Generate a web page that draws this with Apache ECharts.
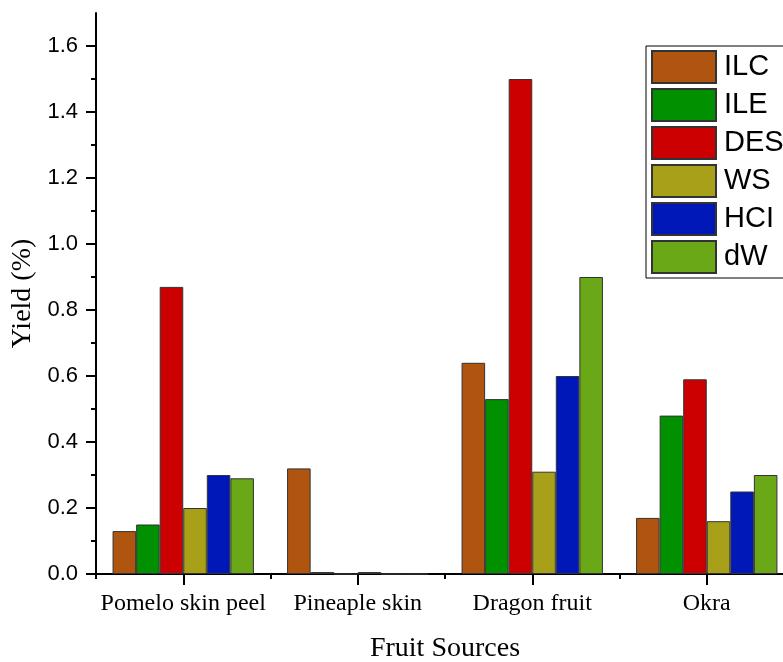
<!DOCTYPE html>
<html><head><meta charset="utf-8">
<script src="https://cdn.jsdelivr.net/npm/echarts@6/dist/echarts.min.js"></script>
<style>html,body{margin:0;padding:0;background:#fff;overflow:hidden}#c{width:783px;height:662px}</style>
</head><body><div id="c"></div>
<script>
const categories = ['Pomelo skin peel', 'Pineaple skin', 'Dragon fruit', 'Okra'];
const seriesNames = ['ILC', 'ILE', 'DES', 'WS', 'HCI', 'dW'];
const ILC = [0.13, 0.32, 0.64, 0.17];
const ILE = [0.15, 0.006, 0.53, 0.48];
const DES = [0.87, 0, 1.50, 0.59];
const WS  = [0.20, 0.006, 0.31, 0.16];
const HCI = [0.30, 0, 0.60, 0.25];
const dW  = [0.29, 0, 0.90, 0.30];
const majorTicks = [0, 0.2, 0.4, 0.6, 0.8, 1.0, 1.2, 1.4, 1.6];
const minorTicks = [0.1, 0.3, 0.5, 0.7, 0.9, 1.1, 1.3, 1.5];
const colors = ['#B05510', '#009000', '#CC0000', '#A8A018', '#0018B8', '#6AA818'];
const values = [ILC, ILE, DES, WS, HCI, dW];

const chart = echarts.init(document.getElementById('c'), null, {renderer: 'canvas'});
const serif = '"Liberation Serif", "Times New Roman", serif';
const sans = '"Liberation Sans", Arial, sans-serif';
const blk = {color: '#000', width: 2};
const tickOnlyX = (alignWithLabel, length) => ({
  type: 'category', data: categories, position: 'bottom', offset: 0,
  axisLine: {show: false},
  axisTick: {show: true, interval: 0, alignWithLabel: alignWithLabel, length: length, lineStyle: blk},
  axisLabel: {show: false}, splitLine: {show: false}
});
const tickOnlyY = (vals, length) => ({
  type: 'value', min: 0, max: 1.7, position: 'left', offset: 0,
  splitLine: {show: false},
  axisLine: {show: false},
  axisTick: {show: true, length: length, customValues: vals, lineStyle: blk},
  axisLabel: {show: false}
});
chart.setOption({
  animation: false,
  backgroundColor: '#fff',
  grid: {left: 96, top: 13, width: 698, height: 561, containLabel: false, outerBoundsMode: 'none'},
  legend: {
    orient: 'vertical', left: 646, top: 46,
    data: seriesNames,
    icon: 'rect',
    itemWidth: 64, itemHeight: 32, itemGap: 4,
    padding: [4, 30, 4, 5],
    borderColor: '#000', borderWidth: 1,
    textStyle: {fontFamily: sans, fontSize: 29, color: '#000', lineHeight: 32, padding: [0, 0, 0, 3]}
  },
  xAxis: [{
    type: 'category', data: categories, position: 'bottom',
    axisLine: {show: true, lineStyle: blk},
    axisTick: {show: false},
    axisLabel: {interval: 0, fontFamily: serif, fontSize: 24, color: '#000', margin: 18},
    name: 'Fruit Sources', nameLocation: 'middle', nameGap: 61,
    nameTextStyle: {fontFamily: serif, fontSize: 28, color: '#000'}
  }, tickOnlyX(false, 5), tickOnlyX(true, 11)],
  yAxis: [{
    type: 'value', min: 0, max: 1.7, position: 'left',
    splitLine: {show: false},
    axisLine: {show: true, lineStyle: blk},
    axisTick: {show: false},
    axisLabel: {customValues: majorTicks, fontFamily: sans, fontSize: 22, color: '#000', margin: 18,
      formatter: v => v.toFixed(1)},
    name: 'Yield (%)', nameLocation: 'middle', nameGap: 56,
    nameTextStyle: {fontFamily: serif, fontSize: 28, color: '#000'}
  }, tickOnlyY(majorTicks, 10), tickOnlyY(minorTicks, 5)],
  series: seriesNames.map((n, i) => ({
    name: n, type: 'bar', data: values[i],
    xAxisIndex: 0, yAxisIndex: 0,
    barGap: '0%', barCategoryGap: '19%',
    itemStyle: {color: colors[i], borderColor: '#333', borderWidth: 1}
  }))
});
</script></body></html>
